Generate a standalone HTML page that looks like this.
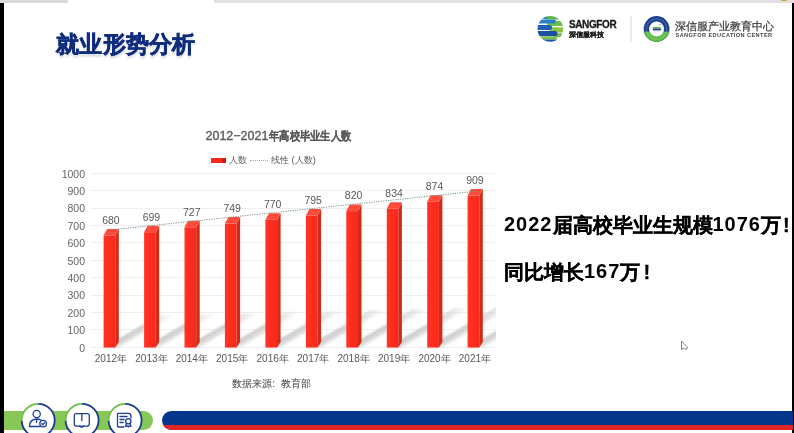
<!DOCTYPE html>
<html><head><meta charset="utf-8">
<style>
*{margin:0;padding:0;box-sizing:border-box}
html,body{width:794px;height:433px;overflow:hidden;background:#fff;font-family:"Liberation Sans",sans-serif}
#root{position:absolute;left:0;top:0;width:794px;height:433px;will-change:transform}
.abs{position:absolute}
#lbar{position:absolute;left:0;top:3px;width:4px;height:430px;background:#000}
#rbar{position:absolute;left:792.4px;top:3px;width:2px;height:430px;background:#000}
#top1{position:absolute;left:0;top:0;width:68px;height:2.5px;background:#dcdad6}
#top2{position:absolute;left:214px;top:0;width:580px;height:2.5px;background:#e2e0e2}
#title{position:absolute;left:56px;top:29px;font-size:22.5px;font-weight:bold;color:#102c7c;letter-spacing:0.3px;white-space:nowrap;-webkit-text-stroke:0.6px #102c7c;text-shadow:0 2.5px 2px rgba(40,60,120,0.18)}
.vl{position:absolute;width:40px;text-align:center;font-size:10.5px;color:#595959}
.xl{position:absolute;width:50px;text-align:center;font-size:10px;color:#595959}
.yl{position:absolute;left:50px;width:35px;text-align:right;font-size:10.5px;color:#656565}
#ctitle{position:absolute;left:205.5px;top:127.8px;font-size:12.5px;color:#595959;white-space:nowrap;-webkit-text-stroke:0.35px #595959}
#ctitle b{display:inline-block;font-size:12px;transform:scaleX(0.855);transform-origin:0 0;-webkit-text-stroke:0.15px #595959;margin-left:0.5px}
.legend{position:absolute;top:154px;font-size:9px;color:#595959;white-space:nowrap}
#src{position:absolute;left:232.3px;top:376.6px;font-size:10.2px;color:#404040;white-space:nowrap}
.big{position:absolute;left:504px;font-size:20px;font-weight:bold;color:#000;white-space:nowrap;-webkit-text-stroke:0.3px #000}
.big i{-webkit-text-stroke:0}
.big i{font-style:normal;letter-spacing:1px;position:relative;top:-1.5px}
</style></head><body><div id="root">
<div id="top1"></div><div id="top2"></div>
<div id="lbar"></div><div class="abs" style="left:780.5px;top:0;width:6px;height:1.3px;background:#d6a648;border-radius:0 0 3px 3px"></div><div id="rbar"></div>
<div id="title">就业形势分析</div>

<!-- logos -->
<svg class="abs" style="left:0;top:0" width="794" height="60">
 <defs>
  <clipPath id="gc"><circle cx="550.3" cy="28.9" r="12.8"/></clipPath>
  <clipPath id="ec"><circle cx="656.6" cy="29" r="12.9"/></clipPath>
 </defs>
 <g clip-path="url(#gc)">
  <rect x="544" y="15.5" width="17" height="4" rx="2" fill="#5db848"/>
  <rect x="540" y="16.8" width="8" height="2" rx="1" fill="#2a86cc"/>
  <rect x="547" y="21" width="17" height="5" rx="2.5" fill="#6cc04a"/>
  <rect x="535" y="19.6" width="21" height="4" rx="2" fill="#2b7fc8"/>
  <rect x="549.5" y="27.3" width="15" height="5.2" rx="2.6" fill="#8cc63f"/>
  <rect x="535" y="25" width="17" height="5" rx="2.5" fill="#1f62b3"/>
  <rect x="553" y="33.2" width="11" height="4" rx="2" fill="#6cc04a"/>
  <rect x="535" y="31" width="22.5" height="5.2" rx="2.6" fill="#1b4fa0"/>
  <rect x="538" y="36.6" width="19" height="2.8" rx="1.4" fill="#7cc242"/>
  <rect x="540" y="39.4" width="18" height="3.5" rx="1.7" fill="#1f55a5"/>
 </g>
 <line x1="631" y1="16" x2="631" y2="42" stroke="#d4d4d4" stroke-width="1"/>
 <g clip-path="url(#ec)">
  <rect x="642" y="14" width="30" height="30" fill="#1c3f8e"/>
  <rect x="642" y="31.6" width="30" height="14" fill="#5cba47"/>
 </g>
 <circle cx="656.6" cy="29" r="10.1" fill="none" stroke="#fff" stroke-width="1.2" stroke-dasharray="0.9 0.7" opacity="0.35"/>
 <circle cx="656.6" cy="29" r="7.5" fill="#fff"/>
 <circle cx="656.6" cy="29" r="6.9" fill="none" stroke="#e4e8ec" stroke-width="0.6"/>
 <path d="M653.5 27 L660.5 27 L660.5 28.6 L653.5 28.6 A0.8 0.8 0 0 1 653.5 27Z" fill="#5cba47"/>
 <path d="M652.8 28.6 L660.3 28.6 A0.9 0.9 0 0 1 660.3 30.4 L652.8 30.4Z" fill="#1c3f8e"/>
 <rect x="653" y="30.6" width="7" height="0.9" fill="#d4d8de"/>
 <rect x="653.5" y="25.6" width="5" height="0.8" fill="#dfe3e8"/>
 <circle cx="659.9" cy="24.8" r="0.8" fill="#5cba47"/>
</svg>
<div class="abs" style="left:569px;top:19px;font-size:10px;font-weight:bold;color:#1a1a1a;letter-spacing:-0.4px;-webkit-text-stroke:0.3px #1a1a1a">SANGFOR</div>
<div class="abs" style="left:569px;top:30px;font-size:6.8px;font-weight:bold;color:#1a1a1a;-webkit-text-stroke:0.2px #1a1a1a">深信服科技</div>
<div class="abs" style="left:675px;top:20px;font-size:10.6px;color:#3c3c3c;white-space:nowrap;-webkit-text-stroke:0.25px #3c3c3c">深信服产业教育中心</div>
<div class="abs" style="left:675.5px;top:32px;font-size:5.6px;font-weight:bold;color:#444;letter-spacing:0.42px;white-space:nowrap">SANGFOR EDUCATION CENTER</div>

<!-- chart -->
<svg class="abs" style="left:0;top:0" width="794" height="433">
 <defs>
  <linearGradient id="sh" x1="0.35" y1="0.3" x2="0.65" y2="0.85">
   <stop offset="0" stop-color="#c2c2c2"/><stop offset="0.45" stop-color="#d2d2d2"/><stop offset="1" stop-color="#fbfbfb"/>
  </linearGradient>
  <linearGradient id="fr" x1="0" y1="0" x2="1" y2="0">
   <stop offset="0" stop-color="#ff3424"/><stop offset="0.5" stop-color="#fe2c1e"/><stop offset="1" stop-color="#f42a1d"/>
  </linearGradient>
  <clipPath id="plot"><rect x="0" y="0" width="496" height="433"/></clipPath>
  <linearGradient id="sg0" gradientUnits="userSpaceOnUse" x1="103.6" y1="347.4" x2="107.4" y2="354.0"><stop offset="0" stop-color="#c4c4c4"/><stop offset="0.5" stop-color="#d3d3d3"/><stop offset="1" stop-color="#ebebeb"/></linearGradient>
<linearGradient id="sm0" gradientUnits="userSpaceOnUse" x1="110.6" y1="347.4" x2="165.7" y2="315.4"><stop offset="0" stop-color="#fff" stop-opacity="1"/><stop offset="0.6" stop-color="#fff" stop-opacity="0.9"/><stop offset="1" stop-color="#fff" stop-opacity="0.3"/></linearGradient>
<mask id="mk0" maskUnits="userSpaceOnUse" x="0" y="0" width="794" height="433"><rect x="0" y="0" width="794" height="433" fill="url(#sm0)"/></mask>
<linearGradient id="sg1" gradientUnits="userSpaceOnUse" x1="144.1" y1="347.4" x2="147.9" y2="354.0"><stop offset="0" stop-color="#c4c4c4"/><stop offset="0.5" stop-color="#d3d3d3"/><stop offset="1" stop-color="#ebebeb"/></linearGradient>
<linearGradient id="sm1" gradientUnits="userSpaceOnUse" x1="151.1" y1="347.4" x2="207.7" y2="314.5"><stop offset="0" stop-color="#fff" stop-opacity="1"/><stop offset="0.6" stop-color="#fff" stop-opacity="0.9"/><stop offset="1" stop-color="#fff" stop-opacity="0.3"/></linearGradient>
<mask id="mk1" maskUnits="userSpaceOnUse" x="0" y="0" width="794" height="433"><rect x="0" y="0" width="794" height="433" fill="url(#sm1)"/></mask>
<linearGradient id="sg2" gradientUnits="userSpaceOnUse" x1="184.5" y1="347.4" x2="188.3" y2="354.0"><stop offset="0" stop-color="#c4c4c4"/><stop offset="0.5" stop-color="#d3d3d3"/><stop offset="1" stop-color="#ebebeb"/></linearGradient>
<linearGradient id="sm2" gradientUnits="userSpaceOnUse" x1="191.5" y1="347.4" x2="250.4" y2="313.2"><stop offset="0" stop-color="#fff" stop-opacity="1"/><stop offset="0.6" stop-color="#fff" stop-opacity="0.9"/><stop offset="1" stop-color="#fff" stop-opacity="0.3"/></linearGradient>
<mask id="mk2" maskUnits="userSpaceOnUse" x="0" y="0" width="794" height="433"><rect x="0" y="0" width="794" height="433" fill="url(#sm2)"/></mask>
<linearGradient id="sg3" gradientUnits="userSpaceOnUse" x1="224.9" y1="347.4" x2="228.8" y2="354.0"><stop offset="0" stop-color="#c4c4c4"/><stop offset="0.5" stop-color="#d3d3d3"/><stop offset="1" stop-color="#ebebeb"/></linearGradient>
<linearGradient id="sm3" gradientUnits="userSpaceOnUse" x1="231.9" y1="347.4" x2="292.7" y2="312.2"><stop offset="0" stop-color="#fff" stop-opacity="1"/><stop offset="0.6" stop-color="#fff" stop-opacity="0.9"/><stop offset="1" stop-color="#fff" stop-opacity="0.3"/></linearGradient>
<mask id="mk3" maskUnits="userSpaceOnUse" x="0" y="0" width="794" height="433"><rect x="0" y="0" width="794" height="433" fill="url(#sm3)"/></mask>
<linearGradient id="sg4" gradientUnits="userSpaceOnUse" x1="265.4" y1="347.4" x2="269.2" y2="354.0"><stop offset="0" stop-color="#c4c4c4"/><stop offset="0.5" stop-color="#d3d3d3"/><stop offset="1" stop-color="#ebebeb"/></linearGradient>
<linearGradient id="sm4" gradientUnits="userSpaceOnUse" x1="272.4" y1="347.4" x2="334.8" y2="311.2"><stop offset="0" stop-color="#fff" stop-opacity="1"/><stop offset="0.6" stop-color="#fff" stop-opacity="0.9"/><stop offset="1" stop-color="#fff" stop-opacity="0.3"/></linearGradient>
<mask id="mk4" maskUnits="userSpaceOnUse" x="0" y="0" width="794" height="433"><rect x="0" y="0" width="794" height="433" fill="url(#sm4)"/></mask>
<linearGradient id="sg5" gradientUnits="userSpaceOnUse" x1="305.9" y1="347.4" x2="309.7" y2="354.0"><stop offset="0" stop-color="#c4c4c4"/><stop offset="0.5" stop-color="#d3d3d3"/><stop offset="1" stop-color="#ebebeb"/></linearGradient>
<linearGradient id="sm5" gradientUnits="userSpaceOnUse" x1="312.9" y1="347.4" x2="377.3" y2="310.0"><stop offset="0" stop-color="#fff" stop-opacity="1"/><stop offset="0.6" stop-color="#fff" stop-opacity="0.9"/><stop offset="1" stop-color="#fff" stop-opacity="0.3"/></linearGradient>
<mask id="mk5" maskUnits="userSpaceOnUse" x="0" y="0" width="794" height="433"><rect x="0" y="0" width="794" height="433" fill="url(#sm5)"/></mask>
<linearGradient id="sg6" gradientUnits="userSpaceOnUse" x1="346.3" y1="347.4" x2="350.1" y2="354.0"><stop offset="0" stop-color="#c4c4c4"/><stop offset="0.5" stop-color="#d3d3d3"/><stop offset="1" stop-color="#ebebeb"/></linearGradient>
<linearGradient id="sm6" gradientUnits="userSpaceOnUse" x1="353.3" y1="347.4" x2="419.8" y2="308.9"><stop offset="0" stop-color="#fff" stop-opacity="1"/><stop offset="0.6" stop-color="#fff" stop-opacity="0.9"/><stop offset="1" stop-color="#fff" stop-opacity="0.3"/></linearGradient>
<mask id="mk6" maskUnits="userSpaceOnUse" x="0" y="0" width="794" height="433"><rect x="0" y="0" width="794" height="433" fill="url(#sm6)"/></mask>
<linearGradient id="sg7" gradientUnits="userSpaceOnUse" x1="386.8" y1="347.4" x2="390.6" y2="354.0"><stop offset="0" stop-color="#c4c4c4"/><stop offset="0.5" stop-color="#d3d3d3"/><stop offset="1" stop-color="#ebebeb"/></linearGradient>
<linearGradient id="sm7" gradientUnits="userSpaceOnUse" x1="393.8" y1="347.4" x2="461.3" y2="308.2"><stop offset="0" stop-color="#fff" stop-opacity="1"/><stop offset="0.6" stop-color="#fff" stop-opacity="0.9"/><stop offset="1" stop-color="#fff" stop-opacity="0.3"/></linearGradient>
<mask id="mk7" maskUnits="userSpaceOnUse" x="0" y="0" width="794" height="433"><rect x="0" y="0" width="794" height="433" fill="url(#sm7)"/></mask>
<linearGradient id="sg8" gradientUnits="userSpaceOnUse" x1="427.2" y1="347.4" x2="431.0" y2="354.0"><stop offset="0" stop-color="#c4c4c4"/><stop offset="0.5" stop-color="#d3d3d3"/><stop offset="1" stop-color="#ebebeb"/></linearGradient>
<linearGradient id="sm8" gradientUnits="userSpaceOnUse" x1="434.2" y1="347.4" x2="505.0" y2="306.3"><stop offset="0" stop-color="#fff" stop-opacity="1"/><stop offset="0.6" stop-color="#fff" stop-opacity="0.9"/><stop offset="1" stop-color="#fff" stop-opacity="0.3"/></linearGradient>
<mask id="mk8" maskUnits="userSpaceOnUse" x="0" y="0" width="794" height="433"><rect x="0" y="0" width="794" height="433" fill="url(#sm8)"/></mask>
<linearGradient id="sg9" gradientUnits="userSpaceOnUse" x1="467.6" y1="347.4" x2="471.5" y2="354.0"><stop offset="0" stop-color="#c4c4c4"/><stop offset="0.5" stop-color="#d3d3d3"/><stop offset="1" stop-color="#ebebeb"/></linearGradient>
<linearGradient id="sm9" gradientUnits="userSpaceOnUse" x1="474.6" y1="347.4" x2="548.3" y2="304.7"><stop offset="0" stop-color="#fff" stop-opacity="1"/><stop offset="0.6" stop-color="#fff" stop-opacity="0.9"/><stop offset="1" stop-color="#fff" stop-opacity="0.3"/></linearGradient>
<mask id="mk9" maskUnits="userSpaceOnUse" x="0" y="0" width="794" height="433"><rect x="0" y="0" width="794" height="433" fill="url(#sm9)"/></mask>
  <filter id="blur" x="-20%" y="-20%" width="140%" height="140%"><feGaussianBlur stdDeviation="1.3"/></filter>
 </defs>
<line x1="91" y1="347.5" x2="495" y2="347.5" stroke="#efefef" stroke-width="1"/>
<line x1="91" y1="329.5" x2="495" y2="329.5" stroke="#efefef" stroke-width="1"/>
<line x1="91" y1="312.5" x2="495" y2="312.5" stroke="#efefef" stroke-width="1"/>
<line x1="91" y1="295.5" x2="495" y2="295.5" stroke="#efefef" stroke-width="1"/>
<line x1="91" y1="277.5" x2="495" y2="277.5" stroke="#efefef" stroke-width="1"/>
<line x1="91" y1="260.5" x2="495" y2="260.5" stroke="#efefef" stroke-width="1"/>
<line x1="91" y1="242.5" x2="495" y2="242.5" stroke="#efefef" stroke-width="1"/>
<line x1="91" y1="225.5" x2="495" y2="225.5" stroke="#efefef" stroke-width="1"/>
<line x1="91" y1="208.5" x2="495" y2="208.5" stroke="#efefef" stroke-width="1"/>
<line x1="91" y1="190.5" x2="495" y2="190.5" stroke="#efefef" stroke-width="1"/>
<line x1="91" y1="173.5" x2="495" y2="173.5" stroke="#efefef" stroke-width="1"/>
<g clip-path="url(#plot)"><g filter="url(#blur)">
<polygon points="103.6,347.4 118.8,347.4 173.9,315.4 158.7,315.4" fill="url(#sg0)" mask="url(#mk0)"/>
<polygon points="144.1,347.4 159.2,347.4 215.9,314.5 200.7,314.5" fill="url(#sg1)" mask="url(#mk1)"/>
<polygon points="184.5,347.4 199.7,347.4 258.6,313.2 243.4,313.2" fill="url(#sg2)" mask="url(#mk2)"/>
<polygon points="224.9,347.4 240.1,347.4 300.9,312.2 285.7,312.2" fill="url(#sg3)" mask="url(#mk3)"/>
<polygon points="265.4,347.4 280.6,347.4 343.0,311.2 327.8,311.2" fill="url(#sg4)" mask="url(#mk4)"/>
<polygon points="305.9,347.4 321.1,347.4 385.5,310.0 370.3,310.0" fill="url(#sg5)" mask="url(#mk5)"/>
<polygon points="346.3,347.4 361.5,347.4 428.0,308.9 412.8,308.9" fill="url(#sg6)" mask="url(#mk6)"/>
<polygon points="386.8,347.4 401.9,347.4 469.5,308.2 454.3,308.2" fill="url(#sg7)" mask="url(#mk7)"/>
<polygon points="427.2,347.4 442.4,347.4 513.2,306.3 498.0,306.3" fill="url(#sg8)" mask="url(#mk8)"/>
<polygon points="467.6,347.4 482.8,347.4 556.5,304.7 541.3,304.7" fill="url(#sg9)" mask="url(#mk9)"/>
</g></g>
<rect x="103.6" y="235.5" width="11.7" height="112.0" fill="url(#fr)"/>
<polygon points="115.3,235.5 118.8,229.0 118.8,342 115.3,347.5" fill="#d22a14"/>
<polygon points="103.6,235.5 107.1,229.0 118.8,229.0 115.3,235.5" fill="#ff4a3c"/>
<rect x="144.1" y="232.2" width="11.7" height="115.3" fill="url(#fr)"/>
<polygon points="155.8,232.2 159.2,225.7 159.2,342 155.8,347.5" fill="#d22a14"/>
<polygon points="144.1,232.2 147.6,225.7 159.2,225.7 155.8,232.2" fill="#ff4a3c"/>
<rect x="184.5" y="227.3" width="11.7" height="120.2" fill="url(#fr)"/>
<polygon points="196.2,227.3 199.7,220.8 199.7,342 196.2,347.5" fill="#d22a14"/>
<polygon points="184.5,227.3 188.0,220.8 199.7,220.8 196.2,227.3" fill="#ff4a3c"/>
<rect x="224.9" y="223.5" width="11.7" height="124.0" fill="url(#fr)"/>
<polygon points="236.6,223.5 240.1,217.0 240.1,342 236.6,347.5" fill="#d22a14"/>
<polygon points="224.9,223.5 228.4,217.0 240.1,217.0 236.6,223.5" fill="#ff4a3c"/>
<rect x="265.4" y="219.8" width="11.7" height="127.7" fill="url(#fr)"/>
<polygon points="277.1,219.8 280.6,213.3 280.6,342 277.1,347.5" fill="#d22a14"/>
<polygon points="265.4,219.8 268.9,213.3 280.6,213.3 277.1,219.8" fill="#ff4a3c"/>
<rect x="305.9" y="215.5" width="11.7" height="132.0" fill="url(#fr)"/>
<polygon points="317.6,215.5 321.1,209.0 321.1,342 317.6,347.5" fill="#d22a14"/>
<polygon points="305.9,215.5 309.4,209.0 321.1,209.0 317.6,215.5" fill="#ff4a3c"/>
<rect x="346.3" y="211.1" width="11.7" height="136.4" fill="url(#fr)"/>
<polygon points="358.0,211.1 361.5,204.6 361.5,342 358.0,347.5" fill="#d22a14"/>
<polygon points="346.3,211.1 349.8,204.6 361.5,204.6 358.0,211.1" fill="#ff4a3c"/>
<rect x="386.8" y="208.7" width="11.7" height="138.8" fill="url(#fr)"/>
<polygon points="398.4,208.7 401.9,202.2 401.9,342 398.4,347.5" fill="#d22a14"/>
<polygon points="386.8,208.7 390.2,202.2 401.9,202.2 398.4,208.7" fill="#ff4a3c"/>
<rect x="427.2" y="201.7" width="11.7" height="145.8" fill="url(#fr)"/>
<polygon points="438.9,201.7 442.4,195.2 442.4,342 438.9,347.5" fill="#d22a14"/>
<polygon points="427.2,201.7 430.7,195.2 442.4,195.2 438.9,201.7" fill="#ff4a3c"/>
<rect x="467.6" y="195.6" width="11.7" height="151.9" fill="url(#fr)"/>
<polygon points="479.3,195.6 482.8,189.1 482.8,342 479.3,347.5" fill="#d22a14"/>
<polygon points="467.6,195.6 471.1,189.1 482.8,189.1 479.3,195.6" fill="#ff4a3c"/>
<line x1="118.3" y1="229.1" x2="475" y2="191.3" stroke="#7d9a8c" stroke-width="1" stroke-dasharray="1.3 1.1"/>
</svg>
<div class="vl" style="left:90.9px;top:213.8px">680</div>
<div class="xl" style="left:85.9px;top:352px">2012年</div>
<div class="vl" style="left:131.4px;top:210.5px">699</div>
<div class="xl" style="left:126.4px;top:352px">2013年</div>
<div class="vl" style="left:171.8px;top:205.6px">727</div>
<div class="xl" style="left:166.8px;top:352px">2014年</div>
<div class="vl" style="left:212.2px;top:201.8px">749</div>
<div class="xl" style="left:207.2px;top:352px">2015年</div>
<div class="vl" style="left:252.7px;top:198.1px">770</div>
<div class="xl" style="left:247.7px;top:352px">2016年</div>
<div class="vl" style="left:293.2px;top:193.8px">795</div>
<div class="xl" style="left:288.2px;top:352px">2017年</div>
<div class="vl" style="left:333.6px;top:189.4px">820</div>
<div class="xl" style="left:328.6px;top:352px">2018年</div>
<div class="vl" style="left:374.1px;top:187.0px">834</div>
<div class="xl" style="left:369.1px;top:352px">2019年</div>
<div class="vl" style="left:414.5px;top:180.0px">874</div>
<div class="xl" style="left:409.5px;top:352px">2020年</div>
<div class="vl" style="left:454.9px;top:173.9px">909</div>
<div class="xl" style="left:449.9px;top:352px">2021年</div>
<div class="yl" style="top:341.6px">0</div>
<div class="yl" style="top:324.2px">100</div>
<div class="yl" style="top:306.8px">200</div>
<div class="yl" style="top:289.4px">300</div>
<div class="yl" style="top:272.0px">400</div>
<div class="yl" style="top:254.5px">500</div>
<div class="yl" style="top:237.1px">600</div>
<div class="yl" style="top:219.7px">700</div>
<div class="yl" style="top:202.3px">800</div>
<div class="yl" style="top:184.9px">900</div>
<div class="yl" style="top:167.5px">1000</div>
<div id="ctitle">2012−2021<b>年高校毕业生人数</b></div>
<div class="abs" style="left:211px;top:157.5px;width:15px;height:5px;background:linear-gradient(90deg,#fd2a1e 0,#f5281c 75%,#c41c12 80%,#c41c12 100%)"></div>
<div class="abs" style="left:249.5px;top:159.5px;width:18.5px;height:1px;border-top:1px dotted #98aeb4"></div>
<div class="legend" style="left:228.5px">人数</div>
<div class="legend" style="left:271px;font-size:9.3px;top:153.8px">线性 (人数)</div>
<div id="src">数据来源<span style="margin-right:5.5px">:</span>教育部</div>
<div class="big" style="top:212px"><i>2022</i>届高校毕业生规模<i>1076</i>万<span style="margin-left:2px">!</span></div>
<div class="big" style="top:259px">同比增长<i>167</i>万<span style="margin-left:3px">!</span></div>

<!-- cursor -->
<svg class="abs" style="left:678px;top:338px" width="14" height="16"><path d="M3.5 3 L3.5 11.5 L6 10 L8.5 11.5 L9.5 9 L8.5 8.5Z" fill="#fff" stroke="#777" stroke-width="0.9"/></svg>

<!-- bottom bars -->
<div class="abs" style="left:4px;top:411px;width:149px;height:19px;background:#88c856;border-radius:0 10px 10px 0"></div>
<div class="abs" style="left:162px;top:411px;width:631px;height:19px;background:#063689;border-radius:10px 0 0 10px;overflow:hidden"><div style="margin-top:14px;height:5px;background:#e02626"></div></div>
<svg class="abs" style="left:0;top:395px" width="160" height="38">
 <circle cx="38.2" cy="25.3" r="16.5" fill="#fff"/>
 <path d="M38.2 8.8 A16.5 16.5 0 1 1 21.71 25.88" fill="none" stroke="#1a3c92" stroke-width="1.8"/>
 <path d="M21.71 25.88 A16.5 16.5 0 0 1 38.2 8.8" fill="none" stroke="#6cc04a" stroke-width="1.8"/>
 <circle cx="82.1" cy="25.3" r="16.5" fill="#fff"/>
 <path d="M82.1 8.8 A16.5 16.5 0 1 1 65.61 25.88" fill="none" stroke="#1a3c92" stroke-width="1.8"/>
 <path d="M65.61 25.88 A16.5 16.5 0 0 1 82.1 8.8" fill="none" stroke="#6cc04a" stroke-width="1.8"/>
 <circle cx="125.1" cy="25.3" r="16.5" fill="#fff"/>
 <path d="M125.1 8.8 A16.5 16.5 0 1 1 108.61 25.88" fill="none" stroke="#1a3c92" stroke-width="1.8"/>
 <path d="M108.61 25.88 A16.5 16.5 0 0 1 125.1 8.8" fill="none" stroke="#6cc04a" stroke-width="1.8"/>
 <g fill="none" stroke="#1d3f96" stroke-width="1.3" stroke-linecap="round" stroke-linejoin="round">
  <circle cx="36.7" cy="19" r="3.6"/>
  <path d="M29.5 31.5 Q29.5 24.5 36.5 24 Q39.5 24 41 25"/>
  <path d="M29.5 31.5 L40 31.5"/>
  <path d="M36.5 24.5 L36.5 27.5"/>
  <circle cx="43.1" cy="28.6" r="3.3" fill="#fff"/>
  <path d="M41.6 28.6 L42.7 29.7 L44.6 27.7"/>
  <rect x="74.3" y="18.6" width="15" height="12.5" rx="2"/>
  <path d="M81.8 18.6 L81.8 25.5"/>
  <path d="M79.5 31.1 L81.8 32.3 L84 31.1"/>
  <path d="M128 18.3 L118.2 18.3 Q117.5 18.3 117.5 19 L117.5 31.3 Q117.5 32 118.2 32 L124 32"/>
  <path d="M128 18.3 Q131 18.3 131 21 L131 23"/>
  <path d="M120 21.5 L127 21.5 M120 24.5 L124 24.5 M120 27.5 L123 27.5"/>
  <circle cx="128.3" cy="26.3" r="2.6"/>
  <path d="M126.5 28.5 L125.5 31.5 L127.5 30.8 L128.3 32 M130 28.5 L131 31.5 L129 30.8 L128.3 32"/>
 </g>
</svg>
</div></body></html>
